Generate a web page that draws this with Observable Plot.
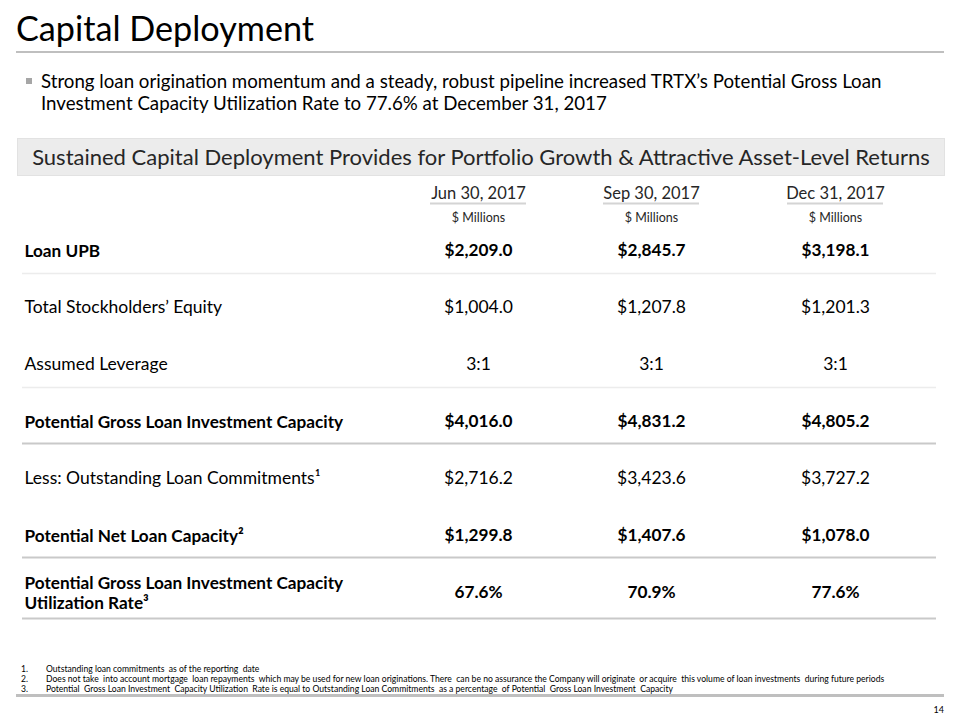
<!DOCTYPE html>
<html>
<head>
<meta charset="utf-8">
<script src="https://cdn.jsdelivr.net/npm/d3@7"></script>
<script src="https://cdn.jsdelivr.net/npm/@observablehq/plot@0.6"></script>
<style>
  html, body { margin: 0; padding: 0; background: #fff; }
  body { font-family: Lato, "Open Sans", sans-serif; color: #000; }
  #page { position: relative; width: 960px; height: 720px; overflow: hidden; }
  #page > * { position: absolute; }
  #chart { left: 0; top: 0; }
  .title { left: 16px; top: 10px; font-size: 34.2px; line-height: 36px; white-space: nowrap; }
  .title-rule { left: 16px; top: 51px; width: 928px; height: 2px; background: #bfbfbf; }
  .bullet { left: 26px; top: 78px; width: 6px; height: 6px; background: #a6a6a6; }
  .bullet-text { left: 41px; top: 70px; font-size: 18.7px; line-height: 22px; white-space: nowrap; }
  .banner { left: 17px; top: 138px; width: 926px; height: 36px; background: #ececec; border: 1px solid #e2e2e2;
            text-align: center; font-size: 22px; line-height: 36px; color: #262626; white-space: nowrap; }
  .fn { left: 0; top: 665px; font-size: 8.6px; line-height: 9.8px; }
  .fn div { position: relative; white-space: pre; height: 9.8px; }
  .fn .n { position: absolute; left: 21px; }
  .fn .t { position: absolute; left: 46px; }
  .bottom-rule { left: 16px; top: 694px; width: 928px; height: 3px; background: #bfbfbf; }
  .pagenum { left: 926px; top: 704px; width: 18px; text-align: right; font-size: 9px; }
</style>
</head>
<body>
<div id="page">
  <div id="chart"></div>
  <div class="title">Capital Deployment</div>
  <div class="title-rule"></div>
  <div class="bullet"></div>
  <div class="bullet-text">Strong loan origination momentum and a steady, robust pipeline increased TRTX’s Potential Gross Loan<br>Investment Capacity Utilization Rate to 77.6% at December 31, 2017</div>
  <div class="banner">Sustained Capital Deployment Provides for Portfolio Growth &amp; Attractive Asset-Level Returns</div>
  <div class="fn" id="footnotes"></div>
  <div class="bottom-rule"></div>
  <div class="pagenum">14</div>
</div>
<script>
// ---- data ----
const periods = ["Jun 30, 2017", "Sep 30, 2017", "Dec 31, 2017"];
const unitLabel = "$ Millions";
const rowLabels = [
  "Loan UPB",
  "Total Stockholders’ Equity",
  "Assumed Leverage",
  "Potential Gross Loan Investment Capacity",
  "Less: Outstanding Loan Commitments¹",
  "Potential Net Loan Capacity²",
  "Potential Gross Loan Investment Capacity\nUtilization Rate³"
];
const boldRows = [true, false, false, true, false, true, true];
const loanUPB = [2209.0, 2845.7, 3198.1];
const stockholdersEquity = [1004.0, 1207.8, 1201.3];
const assumedLeverage = ["3:1", "3:1", "3:1"];
const grossCapacity = [4016.0, 4831.2, 4805.2];
const outstandingCommitments = [2716.2, 3423.6, 3727.2];
const netCapacity = [1299.8, 1407.6, 1078.0];
const utilizationRate = [67.6, 70.9, 77.6];
const footnotes = [
  "Outstanding loan commitments  as of the reporting  date",
  "Does not take  into account mortgage  loan repayments  which may be used for new loan originations. There  can be no assurance the Company will originate  or acquire  this volume of loan investments  during future periods",
  "Potential  Gross Loan Investment  Capacity Utilization  Rate is equal to Outstanding Loan Commitments  as a percentage  of Potential  Gross Loan Investment  Capacity"
];

// ---- table construction ----
const money = d3.format("$,.1f");
const pct = v => d3.format(".1f")(v) + "%";
const rowsValues = [
  loanUPB.map(money),
  stockholdersEquity.map(money),
  assumedLeverage,
  grossCapacity.map(money),
  outstandingCommitments.map(money),
  netCapacity.map(money),
  utilizationRate.map(pct)
];
const cells = [];
rowsValues.forEach((vals, r) => vals.forEach((v, c) => cells.push({row: rowLabels[r], col: c, text: v, bold: boldRows[r]})));
const rowsData = rowLabels.map((label, r) => ({row: label, bold: boldRows[r]}));
const cols = periods.map((p, i) => ({col: i, period: p}));

const lightRules = [rowLabels[0], rowLabels[2]];
const darkRules = [rowLabels[3], rowLabels[5]];
const lastRule = [rowLabels[6]];

const font = "Lato, 'Open Sans', sans-serif";
const chart = Plot.plot({
  width: 960,
  height: 720,
  margin: 0,
  style: {fontFamily: font, background: "transparent", overflow: "visible"},
  x: {type: "linear", domain: [0, 1, 2], range: [478, 651, 835], axis: null},
  y: {type: "point", domain: rowLabels, range: [250, 592], padding: 0, axis: null},
  marks: [
    // column headers
    Plot.text(cols, {x: "col", text: "period", frameAnchor: "top", dy: 187, fontSize: 16.5, fill: "#262626"}),
    Plot.ruleY(cols, {x1: "col", x2: "col", y: () => rowLabels[0], dy: -47, insetLeft: -48, insetRight: -48, stroke: "#d4d4d4", strokeWidth: 2}),
    Plot.text(cols, {x: "col", text: () => unitLabel, frameAnchor: "top", dy: 213, fontSize: 12.5, fill: "#262626"}),
    // separators
    Plot.ruleY(lightRules, {y: d => d, dy: 23, insetLeft: 22, insetRight: 24, stroke: "#ececec", strokeWidth: 1.5}),
    Plot.ruleY(darkRules, {y: d => d, dy: 22, insetLeft: 22, insetRight: 24, stroke: "#c9c9c9", strokeWidth: 2}),
    Plot.ruleY(lastRule, {y: d => d, dy: 26, insetLeft: 22, insetRight: 24, stroke: "#c9c9c9", strokeWidth: 2}),
    // row labels
    Plot.text(rowsData.filter(d => d.bold), {y: "row", text: "row", frameAnchor: "left", dx: 24, textAnchor: "start", fontSize: 17.2, fontWeight: "bold", lineHeight: 1.16, fill: "#000"}),
    Plot.text(rowsData.filter(d => !d.bold), {y: "row", text: "row", frameAnchor: "left", dx: 24, textAnchor: "start", fontSize: 17.5, fill: "#000"}),
    // values
    Plot.text(cells.filter(d => d.bold), {x: "col", y: "row", text: "text", fontSize: 17.2, fontWeight: "bold", fill: "#000"}),
    Plot.text(cells.filter(d => !d.bold), {x: "col", y: "row", text: "text", fontSize: 17.5, fill: "#000"})
  ]
});
document.getElementById("chart").appendChild(chart);

const fn = document.getElementById("footnotes");
footnotes.forEach((t, i) => {
  const line = document.createElement("div");
  line.innerHTML = `<span class="n">${i + 1}.</span><span class="t"></span>`;
  line.querySelector(".t").textContent = t;
  fn.appendChild(line);
});
</script>
</body>
</html>
